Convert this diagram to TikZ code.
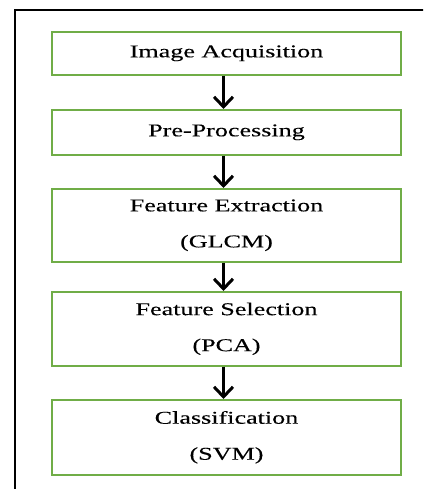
\documentclass[tikz,border=0pt]{standalone}
\usepackage{fontspec}
\setmainfont{Liberation Serif}[FakeStretch=1.45,FakeBold=0.2]
\usetikzlibrary{arrows.meta}
\definecolor{boxgreen}{RGB}{112,173,71}
\begin{document}
\begin{tikzpicture}[x=1pt,y=1pt,
  stage/.style={draw=boxgreen, line width=1.6pt, minimum width=349pt,
    inner sep=0pt, align=center, anchor=north,
    font=\fontsize{18}{36}\selectfont},
  flow/.style={line width=3.4pt,
    -{Straight Barb[length=10pt,width=19pt,line width=3pt]}}]
  \useasboundingbox (0,0) rectangle (423,-489);
  \begin{scope}
    \clip (0,0) rectangle (423,-489);
    % outer frame, running past the page on the right and bottom
    \draw[line width=2.5pt] (15,-500) |- (440,-10);
  \end{scope}

  \node[stage, minimum height=43pt] (b1) at (226.5,-31)  {Image Acquisition};
  \node[stage, minimum height=45pt] (b2) at (226.5,-109) {Pre-Processing};
  \node[stage, minimum height=73pt] (b3) at (226.5,-188) {Feature Extraction\\(GLCM)};
  \node[stage, minimum height=74pt] (b4) at (226.5,-291) {Feature Selection\\(PCA)};
  \node[stage, minimum height=75pt] (b5) at (226.5,-399) {Classification\\(SVM)};

  \foreach \a/\b in {b1/b2, b2/b3, b3/b4, b4/b5}
    \draw[flow] ([xshift=-3pt]\a.south) -- ([xshift=-3pt]\b.north);
\end{tikzpicture}
\end{document}
